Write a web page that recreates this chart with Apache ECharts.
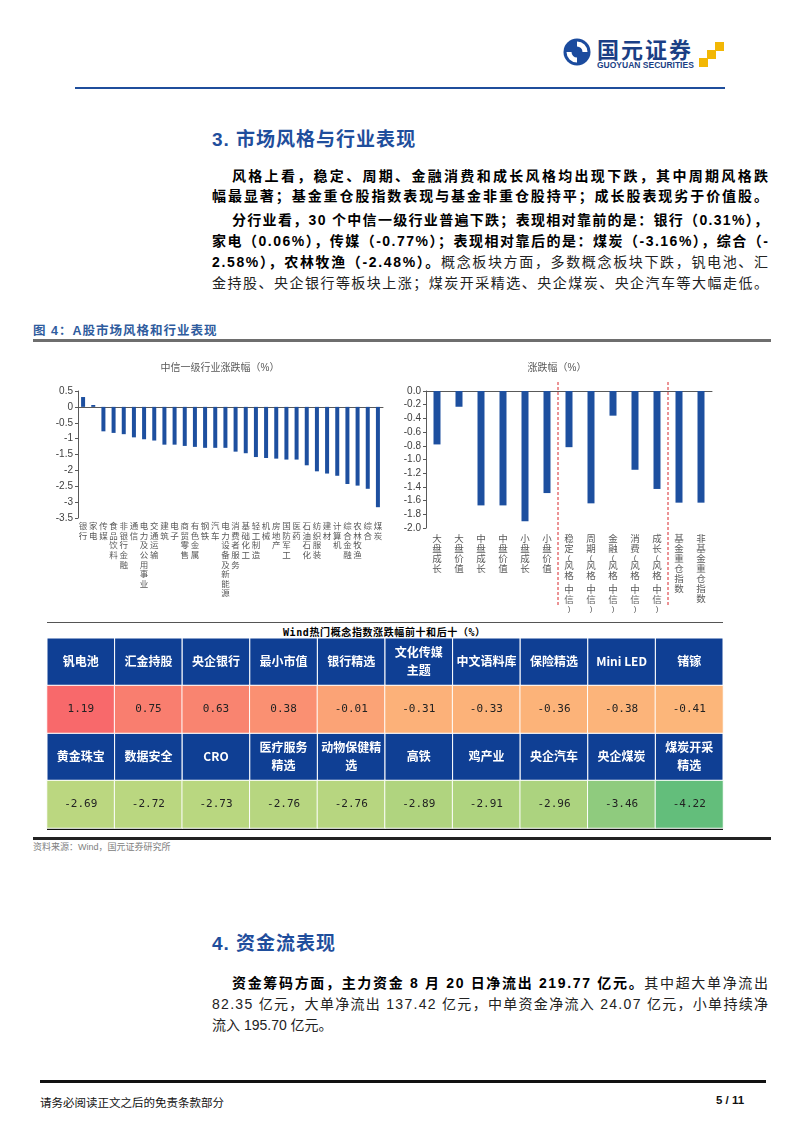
<!DOCTYPE html>
<html>
<head>
<meta charset="utf-8">
<title>A股市场风格和行业表现</title>
<script src="https://cdn.jsdelivr.net/npm/echarts@6/dist/echarts.min.js"></script>
<style>
  body { margin: 0; background: #fff; }
  #page { position: relative; width: 802px; height: 1133px; overflow: hidden; background: #fff;
          font-family: "Liberation Sans", "Noto Sans CJK SC", sans-serif; color: #000; }
  .abs { position: absolute; }
  .rule { position: absolute; }
  .ln { position: absolute; left: 212px; height: 21px; line-height: 21px; font-size: 14px; white-space: nowrap; color: #222; }
  .ln b { color: #000; }
  .ln.ind { left: 232px; }
  .h2 { position: absolute; left: 212px; font-size: 19px; font-weight: bold; color: #1F4E9C; letter-spacing: 1px; }
  #fig { position: absolute; left: 0; top: 345px; width: 802px; height: 495px; }
</style>
</head>
<body>
<div id="page">
  <!-- 页眉 -->
  <svg class="abs" style="left:562px;top:37px" width="30" height="30" viewBox="0 0 30 30">
    <circle cx="15" cy="15" r="13.5" fill="#1B4B9E"/>
    <path d="M15 4.5 A10.5 10.5 0 0 1 25.5 15 L20.5 15 A5.5 5.5 0 0 0 15 9.5 Z" fill="#fff"/>
    <path d="M15 25.5 A10.5 10.5 0 0 1 4.5 15 L9.5 15 A5.5 5.5 0 0 0 15 20.5 Z" fill="#fff"/>
    <rect x="11.8" y="11.8" width="6.4" height="6.4" transform="rotate(45 15 15)" fill="#1B4B9E"/>
  </svg>
  <div class="abs" style="left:597px;top:37px;font-size:22px;line-height:22px;font-weight:bold;color:#1B3F85;letter-spacing:2px;font-family:'Noto Sans CJK SC'">国元证券</div>
  <div class="abs" style="left:597px;top:61px;font-size:8.5px;line-height:9px;font-weight:bold;color:#1B3F85;font-family:'Liberation Sans'">GUOYUAN SECURITIES</div>
  <div class="abs" style="left:715px;top:42px;width:9px;height:9px;background:#F2B705"></div>
  <div class="abs" style="left:707px;top:50px;width:9px;height:9px;background:#F2B705"></div>
  <div class="abs" style="left:699px;top:58px;width:9px;height:9px;background:#F2B705"></div>
  <div class="rule" style="left:75px;top:87px;width:650px;height:2px;background:#1F4E9C"></div>

  <!-- 3. 市场风格与行业表现 -->
  <div class="h2" style="top:124px">3. 市场风格与行业表现</div>
  <div class="ln ind j" style="top:166px"><b>风格上看，稳定、周期、金融消费和成长风格均出现下跌，其中周期风格跌</b></div>
  <div class="ln j" style="top:186px"><b>幅最显著；基金重仓股指数表现与基金非重仓股持平；成长股表现劣于价值股。</b></div>
  <div class="ln ind j" style="top:210px"><b>分行业看，30 个中信一级行业普遍下跌；表现相对靠前的是：银行（0.31%），</b></div>
  <div class="ln j" style="top:231px"><b>家电（0.06%），传媒（-0.77%）；表现相对靠后的是：煤炭（-3.16%），综合（-</b></div>
  <div class="ln j" style="top:252px"><b>2.58%），农林牧渔（-2.48%）。</b>概念板块方面，多数概念板块下跌，钒电池、汇</div>
  <div class="ln j" style="top:273px">金持股、央企银行等板块上涨；煤炭开采精选、央企煤炭、央企汽车等大幅走低。</div>

  <!-- 图 4 -->
  <div class="abs" style="left:33px;top:320px;font-size:12.5px;font-weight:bold;color:#2F5C9E;letter-spacing:1px">图 4：A股市场风格和行业表现</div>
  <div class="rule" style="left:33px;top:339px;width:738px;height:3px;background:#6E6E6E"></div>

  <div class="rule" style="left:47px;top:622px;width:676px;height:1px;background:#555"></div>
  <div class="abs" style="left:283px;top:624px;width:200px;text-align:center;font-size:10px;font-weight:bold;letter-spacing:0.6px;font-family:'DejaVu Sans Mono','Noto Sans CJK SC'">Wind热门概念指数涨跌幅前十和后十（%）</div>
  <div class="rule" style="left:47px;top:828px;width:676px;height:2px;background:#111"></div>
  <div class="rule" style="left:33px;top:837px;width:738px;height:3px;background:#222"></div>
  <div class="abs" style="left:33px;top:840px;font-size:9px;color:#808080">资料来源：Wind，国元证券研究所</div>

  <div id="fig"></div>

  <!-- 4. 资金流表现 -->
  <div class="h2" style="top:928px">4. 资金流表现</div>
  <div class="ln ind j" style="top:973px"><b>资金筹码方面，主力资金 8 月 20 日净流出 219.77 亿元。</b>其中超大单净流出</div>
  <div class="ln j" style="top:994px">82.35 亿元，大单净流出 137.42 亿元，中单资金净流入 24.07 亿元，小单持续净</div>
  <div class="ln" style="top:1015px">流入 195.70 亿元。</div>

  <!-- 页脚 -->
  <div class="rule" style="left:40px;top:1080px;width:726px;height:3px;background:#111"></div>
  <div class="abs" style="left:40px;top:1094px;font-size:11.5px;color:#111">请务必阅读正文之后的免责条款部分</div>
  <div class="abs" style="left:716px;top:1094px;font-size:11.5px;font-weight:bold;color:#111">5 / 11</div>
</div>

<script>
// 中信一级行业涨跌幅（%）
const industries = ['银行','家电','传媒','食品饮料','非银行金融','通信','电力及公用事业','交通运输','建筑','电子',
  '商贸零售','有色金属','钢铁','汽车','电力设备及新能源','消费者服务','基础化工','轻工制造','机械','房地产',
  '国防军工','医药','石油石化','纺织服装','建材','计算机','综合金融','农林牧渔','综合','煤炭'];
const industryChange = [0.31, 0.06, -0.77, -0.82, -0.86, -0.96, -1.02, -1.06, -1.19, -1.19,
  -1.23, -1.26, -1.29, -1.29, -1.29, -1.41, -1.46, -1.58, -1.61, -1.63,
  -1.66, -1.66, -1.84, -2.03, -2.10, -2.17, -2.43, -2.48, -2.58, -3.16];
const industryTicks = { min: -3.5, max: 0.5, interval: 0.5 };

// 风格涨跌幅（%）
const styles = ['大盘成长','大盘价值','中盘成长','中盘价值','小盘成长','小盘价值',
  '稳定(风格.中信)','周期(风格.中信)','金融(风格.中信)','消费(风格.中信)','成长(风格.中信)',
  '基金重仓指数','非基金重仓指数'];
const styleChange = [-0.78, -0.23, -1.67, -1.67, -1.90, -1.49, -0.82, -1.64, -0.36, -1.15, -1.43, -1.63, -1.63];
const styleTicks = { min: -2, max: 0, interval: 0.2 };
const styleBreaks = [5, 10]; // 分组虚线画在这些类目之后

// Wind热门概念指数涨跌幅前十和后十（%）
const topNames = ['钒电池','汇金持股','央企银行','最小市值','银行精选','文化传媒\n主题','中文语料库','保险精选','Mini LED','锗镓'];
const topValues = [1.19, 0.75, 0.63, 0.38, -0.01, -0.31, -0.33, -0.36, -0.38, -0.41];
const bottomNames = ['黄金珠宝','数据安全','CRO','医疗服务\n精选','动物保健精\n选','高铁','鸡产业','央企汽车','央企煤炭','煤炭开采\n精选'];
const bottomValues = [-2.69, -2.72, -2.73, -2.76, -2.76, -2.89, -2.91, -2.96, -3.46, -4.22];

// 正文两端对齐
document.querySelectorAll('.ln.j').forEach(function (el) {
  const target = 768 - parseFloat(getComputedStyle(el).left);
  const n = el.textContent.length;
  const w = el.getBoundingClientRect().width;
  el.style.letterSpacing = ((target - w) / (n - 1)) + 'px';
});

const barColor = '#1D4F9F';
const axisColor = '#595959';
const labelFont = '"Liberation Sans","Noto Sans CJK SC",sans-serif';

// 竖排类目标签：每个字一行，括号和点占半行
function stackLabel(name) {
  return name.split('').map(function (ch) {
    if (ch === '(' || ch === ')') return '{n|' + ch + '}';
    if (ch === '.') return '{d|.}';
    return ch;
  }).join('\n');
}

const headerCells = [];
const valueCells = [];
topNames.forEach(function (name, i) {
  headerCells.push({ value: [i, 0], name: name });
  valueCells.push([i, 1, topValues[i]]);
});
bottomNames.forEach(function (name, i) {
  headerCells.push({ value: [i, 2], name: name });
  valueCells.push([i, 3, bottomValues[i]]);
});
const allValues = topValues.concat(bottomValues);

const myChart = echarts.init(document.getElementById('fig'));

myChart.setOption({
  animation: false,
  textStyle: { fontFamily: labelFont },
  grid: [
    { left: 78, top: 46, width: 305, height: 127 },
    { left: 426, top: 46, width: 286, height: 137 },
    { left: 47, top: 293, width: 676, height: 190 }
  ],
  xAxis: [
    {
      gridIndex: 0, type: 'category', data: industries, position: 'bottom',
      axisLine: { show: false, onZero: false }, axisTick: { show: false },
      axisLabel: { interval: 0, margin: 4, fontSize: 8.5, lineHeight: 9.6, color: '#595959',
                   verticalAlign: 'top', formatter: stackLabel }
    },
    {
      gridIndex: 0, type: 'category', data: industries, position: 'top',
      axisLine: { onZero: true, lineStyle: { color: axisColor } },
      axisTick: { length: 3, lineStyle: { color: axisColor } },
      axisLabel: { show: false }
    },
    {
      gridIndex: 1, type: 'category', data: styles, position: 'bottom',
      axisLine: { show: false, onZero: false }, axisTick: { show: false },
      axisLabel: { interval: 0, margin: 6, fontSize: 9.5, lineHeight: 10, color: '#595959',
                   verticalAlign: 'top', formatter: stackLabel,
                   rich: { n: { fontSize: 8, lineHeight: 7, color: '#595959' },
                           d: { fontSize: 9, lineHeight: 4, color: '#595959' } } }
    },
    {
      gridIndex: 1, type: 'category', data: styles, position: 'top',
      axisLine: { onZero: true, lineStyle: { color: axisColor } },
      axisTick: { length: 4, lineStyle: { color: axisColor } },
      axisLabel: { show: false }
    },
    {
      gridIndex: 2, type: 'category', data: topNames.map(function (n, i) { return i; }), show: false
    }
  ],
  yAxis: [
    {
      gridIndex: 0, type: 'value', min: industryTicks.min, max: industryTicks.max, interval: industryTicks.interval,
      axisLine: { show: true, lineStyle: { color: axisColor } },
      axisTick: { show: true, length: 3, lineStyle: { color: axisColor } },
      splitLine: { show: false },
      axisLabel: { fontSize: 10, color: '#404040', margin: 5 }
    },
    {
      gridIndex: 1, type: 'value', min: styleTicks.min, max: styleTicks.max, interval: styleTicks.interval,
      axisLine: { show: true, lineStyle: { color: axisColor } },
      axisTick: { show: true, length: 3, lineStyle: { color: axisColor } },
      splitLine: { show: false },
      axisLabel: { fontSize: 10, color: '#404040', margin: 5, formatter: function (v) { return v.toFixed(1); } }
    },
    {
      gridIndex: 2, type: 'category', data: [0, 1, 2, 3], inverse: true, show: false
    }
  ],
  visualMap: {
    show: false, type: 'continuous', seriesIndex: 3, dimension: 2,
    min: Math.min.apply(null, allValues), max: Math.max.apply(null, allValues),
    inRange: { color: ['#63BE7B', '#FFEB84', '#F8696B'] }
  },
  series: [
    {
      type: 'bar', xAxisIndex: 0, yAxisIndex: 0, data: industryChange,
      barWidth: 4, itemStyle: { color: barColor }
    },
    {
      type: 'bar', xAxisIndex: 2, yAxisIndex: 1, data: styleChange,
      barWidth: 7, itemStyle: { color: barColor }
    },
    {
      type: 'custom', xAxisIndex: 4, yAxisIndex: 2, data: headerCells,
      renderItem: function (params, api) {
        const c = api.coord([api.value(0), api.value(1)]);
        const s = api.size([1, 1]);
        return {
          type: 'group',
          children: [
            { type: 'rect', shape: { x: c[0] - s[0] / 2, y: c[1] - s[1] / 2, width: s[0], height: s[1] },
              style: { fill: '#0F3F94', stroke: '#fff', lineWidth: 1 } },
            { type: 'text', x: c[0], y: c[1],
              style: { text: headerCells[params.dataIndex].name, fill: '#fff', fontSize: 12, fontWeight: 'bold',
                       fontFamily: '"Noto Sans CJK SC"', align: 'center', verticalAlign: 'middle', lineHeight: 18 } }
          ]
        };
      }
    },
    {
      type: 'heatmap', xAxisIndex: 4, yAxisIndex: 2, data: valueCells,
      itemStyle: { borderColor: '#fff', borderWidth: 1 },
      label: {
        show: true, color: '#222', fontSize: 11, fontFamily: '"DejaVu Sans Mono"',
        formatter: function (p) { return p.value[2].toFixed(2); }
      },
      emphasis: { disabled: true }
    }
  ]
});

// 标题和风格分组虚线
const y0 = myChart.convertToPixel({ yAxisIndex: 1 }, styleTicks.max);
const y1 = myChart.convertToPixel({ yAxisIndex: 1 }, styleTicks.min);
const graphics = [
  { type: 'text', style: { x: 220, y: 23, text: '中信一级行业涨跌幅（%）', fill: '#595959', fontSize: 10,
    fontFamily: labelFont, align: 'center', verticalAlign: 'middle' } },
  { type: 'text', style: { x: 557, y: 23, text: '涨跌幅（%）', fill: '#595959', fontSize: 10,
    fontFamily: labelFont, align: 'center', verticalAlign: 'middle' } }
];
styleBreaks.forEach(function (i) {
  const x = (myChart.convertToPixel({ xAxisIndex: 2 }, styles[i]) + myChart.convertToPixel({ xAxisIndex: 2 }, styles[i + 1])) / 2;
  graphics.push({
    type: 'line', shape: { x1: x, y1: y0 - 9, x2: x, y2: y1 + 77 },
    style: { stroke: '#D9262B', lineWidth: 1, lineDash: [3, 2] }
  });
});
myChart.setOption({ graphic: graphics });
</script>
</body>
</html>
